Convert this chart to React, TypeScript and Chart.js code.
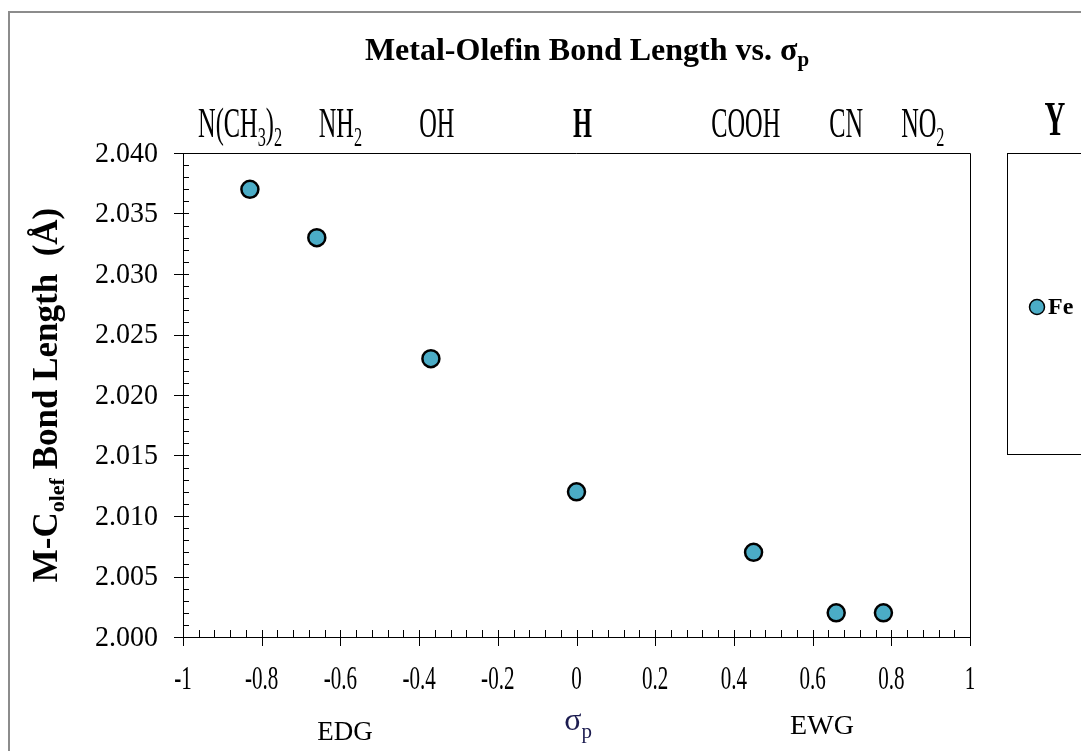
import React, { useEffect, useRef } from "react";
import { Chart, registerables } from "chart.js";

Chart.register(...registerables);

// ---- data ----
const substituents = ["N(CH3)2", "NH2", "OH", "H", "COOH", "CN", "NO2"];
const sigmaP = [-0.83, -0.66, -0.37, 0.0, 0.45, 0.66, 0.78];
const bondLength = [2.037, 2.033, 2.023, 2.012, 2.007, 2.002, 2.002];
const seriesName = "Fe";
const labelSigma = [-0.855, -0.6, -0.355, 0.015, 0.43, 0.685, 0.88];
const yTickLabels = ["2.000", "2.005", "2.010", "2.015", "2.020", "2.025", "2.030", "2.035", "2.040"];
const xTickLabels = ["-1", "-0.8", "-0.6", "-0.4", "-0.2", "0", "0.2", "0.4", "0.6", "0.8", "1"];

const SERIF = "'Liberation Serif', 'Times New Roman', serif";
const FILL = "#4bacc6";

type Run = { t: string; sub?: boolean };

function parseLabel(s: string): Run[] {
  const runs: Run[] = [];
  let buf = "";
  for (const ch of s) {
    if (/[0-9]/.test(ch)) {
      if (buf) runs.push({ t: buf });
      buf = "";
      runs.push({ t: ch, sub: true });
    } else buf += ch;
  }
  if (buf) runs.push({ t: buf });
  return runs;
}

function drawRuns(
  ctx: CanvasRenderingContext2D,
  runs: Run[],
  cx: number,
  baseline: number,
  size: number,
  subSize: number,
  subDrop: number,
  sx: number,
  weight: string,
  align: "center" | "left" = "center"
) {
  ctx.save();
  ctx.textBaseline = "alphabetic";
  ctx.textAlign = "left";
  let total = 0;
  const widths = runs.map((r) => {
    ctx.font = `${weight} ${r.sub ? subSize : size}px ${SERIF}`;
    const w = ctx.measureText(r.t).width;
    total += w;
    return w;
  });
  ctx.translate(cx, baseline);
  ctx.scale(sx, 1);
  let x = align === "center" ? -total / 2 : 0;
  runs.forEach((r, i) => {
    ctx.font = `${weight} ${r.sub ? subSize : size}px ${SERIF}`;
    ctx.fillText(r.t, x, r.sub ? subDrop : 0);
    x += widths[i];
  });
  ctx.restore();
}

const decorPlugin = {
  id: "decor",
  beforeDatasetsDraw(chart: any) {
    const { ctx, chartArea: a, scales } = chart;
    const xs = scales.x;
    const ys = scales.y;
    ctx.save();
    // outer frame
    ctx.strokeStyle = "#8c8c8c";
    ctx.lineWidth = 2;
    ctx.beginPath();
    ctx.moveTo(9, 751);
    ctx.lineTo(9, 12);
    ctx.lineTo(1081, 12);
    ctx.stroke();

    // plot box top/right
    ctx.strokeStyle = "#000";
    ctx.lineWidth = 1;
    ctx.beginPath();
    ctx.moveTo(a.left, a.top + 0.5);
    ctx.lineTo(a.right + 0.5, a.top + 0.5);
    ctx.lineTo(a.right + 0.5, a.bottom);
    ctx.stroke();

    // y ticks
    ctx.beginPath();
    for (let i = 0; i <= 40; i++) {
      const v = 2.0 + i * 0.001;
      const py = Math.round(ys.getPixelForValue(v)) + 0.5;
      const major = i % 5 === 0;
      ctx.moveTo(a.left - (major ? 9 : 0), py);
      ctx.lineTo(a.left + 6, py);
    }
    // x ticks
    for (let i = 0; i <= 50; i++) {
      const v = -1 + i * 0.04;
      const px = Math.round(xs.getPixelForValue(v)) + 0.5;
      const major = i % 5 === 0;
      ctx.moveTo(px, a.bottom - 7);
      ctx.lineTo(px, a.bottom + (major ? 9 : 0));
    }
    ctx.stroke();
    ctx.restore();
  },
  afterDraw(chart: any) {
    const { ctx, scales } = chart;
    const xs = scales.x;
    const ys = scales.y;
    ctx.save();
    ctx.fillStyle = "#000";

    // y tick labels
    yTickLabels.forEach((t) => {
      const py = ys.getPixelForValue(parseFloat(t));
      ctx.save();
      ctx.font = `28px ${SERIF}`;
      ctx.textAlign = "right";
      ctx.textBaseline = "middle";
      ctx.translate(158, py + 1);
      ctx.scale(1.0, 1.05);
      ctx.fillText(t, 0, 0);
      ctx.restore();
    });

    // x tick labels
    xTickLabels.forEach((t) => {
      const px = xs.getPixelForValue(parseFloat(t));
      ctx.save();
      ctx.font = `34px ${SERIF}`;
      ctx.textAlign = "center";
      ctx.textBaseline = "alphabetic";
      ctx.translate(px, 689);
      ctx.scale(0.62, 1);
      ctx.fillText(t, 0, 0);
      ctx.restore();
    });

    // substituent labels on top
    substituents.forEach((s, i) => {
      const px = xs.getPixelForValue(labelSigma[i]);
      const bold = s === "H";
      drawRuns(ctx, parseLabel(s), px, 137, 42, 28, 9, 0.58, bold ? "bold" : "normal");
    });

    // title
    drawRuns(
      ctx,
      [{ t: "Metal-Olefin Bond Length vs. σ" }, { t: "p", sub: true }],
      587,
      60,
      32,
      21,
      6,
      1,
      "bold"
    );

    // y axis title
    ctx.save();
    ctx.translate(57, 395);
    ctx.rotate(-Math.PI / 2);
    drawRuns(
      ctx,
      [{ t: "M-C" }, { t: "olef", sub: true }, { t: " Bond Length  (Å)" }],
      0,
      0,
      35,
      22,
      7,
      1,
      "bold"
    );
    ctx.restore();

    // bottom labels
    ctx.textBaseline = "alphabetic";
    ctx.textAlign = "center";
    ctx.font = `27px ${SERIF}`;
    ctx.fillText("EDG", 345, 740);
    ctx.font = `28px ${SERIF}`;
    ctx.fillText("EWG", 822, 734);
    ctx.fillStyle = "#1c1c50";
    drawRuns(ctx, [{ t: "σ" }, { t: "p", sub: true }], 578, 730, 32, 21, 8, 1, "normal");
    ctx.fillStyle = "#000";

    // legend
    ctx.strokeStyle = "#000";
    ctx.lineWidth = 1;
    ctx.strokeRect(1007.5, 153.5, 200, 301);
    ctx.save();
    ctx.font = `bold 48px ${SERIF}`;
    ctx.textAlign = "center";
    ctx.textBaseline = "alphabetic";
    ctx.translate(1055, 135);
    ctx.scale(0.6, 1);
    ctx.fillText("Y", 0, 0);
    ctx.restore();
    ctx.beginPath();
    ctx.arc(1037, 307, 7.5, 0, Math.PI * 2);
    ctx.fillStyle = FILL;
    ctx.fill();
    ctx.lineWidth = 1.5;
    ctx.strokeStyle = "#000";
    ctx.stroke();
    ctx.fillStyle = "#000";
    ctx.font = `bold 24px ${SERIF}`;
    ctx.textAlign = "left";
    ctx.textBaseline = "middle";
    ctx.fillText(seriesName, 1048, 308);
    ctx.restore();
  },
};

export default function App() {
  const ref = useRef<HTMLCanvasElement | null>(null);
  useEffect(() => {
    document.body.style.margin = "0";
    const canvas = ref.current!;
    const chart = new Chart(canvas, {
      type: "scatter",
      data: {
        datasets: [
          {
            label: seriesName,
            data: sigmaP.map((x, i) => ({ x, y: bondLength[i] })),
            backgroundColor: FILL,
            borderColor: "#000",
            borderWidth: 2.5,
            pointRadius: 8.5,
            pointHoverRadius: 8.5,
          },
        ],
      },
      options: {
        responsive: false,
        animation: false,
        events: [],
        layout: { padding: { left: 183, top: 153, right: 111, bottom: 114 } },
        plugins: { legend: { display: false }, title: { display: false }, tooltip: { enabled: false } },
        scales: {
          x: {
            type: "linear",
            min: -1,
            max: 1,
            ticks: { display: false, stepSize: 0.2 },
            grid: { display: false },
            border: { display: true, color: "#000", width: 1 },
            afterFit: (s: any) => {
              s.height = 0;
            },
          },
          y: {
            type: "linear",
            min: 2.0,
            max: 2.04,
            ticks: { display: false, stepSize: 0.005 },
            grid: { display: false },
            border: { display: true, color: "#000", width: 1 },
            afterFit: (s: any) => {
              s.width = 0;
            },
          },
        },
      },
      plugins: [decorPlugin],
    });
    return () => chart.destroy();
  }, []);
  return (
    <div style={{ position: "fixed", left: 0, top: 0, width: 1081, height: 751, background: "#fff" }}>
      <canvas ref={ref} width={1081} height={751} style={{ width: 1081, height: 751, display: "block" }} />
    </div>
  );
}
